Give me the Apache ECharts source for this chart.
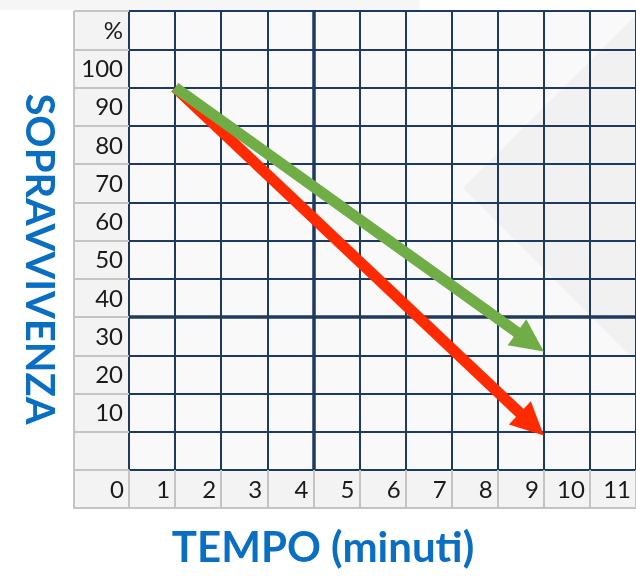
<!DOCTYPE html>
<html><head><meta charset="utf-8">
<script src="https://cdn.jsdelivr.net/npm/echarts@6/dist/echarts.min.js"></script>
<style>html,body{margin:0;padding:0;background:#fff}#c{width:636px;height:578px}</style>
</head><body><div id="c"></div>
<script>
// ---- data ----
const xLabelText = ['0','1','2','3','4','5','6','7','8','9','10','11'];
const yLabelText = ['', '10','20','30','40','50','60','70','80','90','100','%',''];
const arrowNames = ['Rosso','Verde'];
const startTime = [1, 1];
const startSurvival = [100, 100];
const endTime = [9, 9];
const endSurvival = [9, 31];
const arrowColors = ['#ff2a00', '#70ad47'];
const thickTime = [4];
const thickSurvival = [40];

// ---- layout ----
const GL = 129, GT = 11, GB = 108, W = 636, H = 578;
const LABEL_L = 74, ROW_B = 508;
const NAVY = '#1f3a60', CELL = '#c4c4c4';
const FONT = 'Lato';

const chart = echarts.init(document.getElementById('c'), null, {renderer:'canvas'});

const arrowData = arrowNames.map((n,i)=>({name:n, value:[startTime[i], startSurvival[i], endTime[i], endSurvival[i]]}));

function renderArrow(params, api){
  const p1 = api.coord([api.value(0), api.value(1)]);
  const p2 = api.coord([api.value(2), api.value(3)]);
  const color = arrowColors[params.dataIndex];
  const dx = p2[0]-p1[0], dy = p2[1]-p1[1];
  const len = Math.sqrt(dx*dx+dy*dy);
  const ux = dx/len, uy = dy/len, nx = -uy, ny = ux;
  const headLen = 33, headHalf = 16, shaft = 11;
  const bx = p2[0]-ux*headLen, by = p2[1]-uy*headLen;
  return {type:'group', children:[
    {type:'line', shape:{x1:p1[0], y1:p1[1], x2:bx+ux*3, y2:by+uy*3}, style:{stroke:color, lineWidth:shaft, lineCap:'butt'}},
    {type:'polygon', shape:{points:[[p2[0],p2[1]],[bx+nx*headHalf, by+ny*headHalf],[bx-nx*headHalf, by-ny*headHalf]]}, style:{fill:color}}
  ]};
}

chart.setOption({
  backgroundColor:'#ffffff',
  animation:false,
  grid:{left:GL, top:GT, right:0, bottom:GB, containLabel:false, outerBoundsMode:'none'},
  xAxis:{
    type:'value', min:0, max:11, interval:1,
    axisLine:{show:false},
    axisTick:{show:true, length:ROW_B-(H-GB), lineStyle:{color:CELL, width:2}},
    splitLine:{show:true, showMinLine:true, showMaxLine:true, lineStyle:{color:NAVY, width:2}},
    axisLabel:{show:true, showMinLabel:true, showMaxLabel:true, hideOverlap:false,
      formatter:v=>xLabelText[v], align:'right', verticalAlign:'middle', margin:20,
      padding:[0,5,0,0], color:'#1a1a1a', fontSize:24, fontFamily:FONT}
  },
  yAxis:{
    type:'value', min:0, max:120, interval:10,
    axisLine:{show:false},
    axisTick:{show:true, length:GL-LABEL_L, lineStyle:{color:CELL, width:2}},
    splitLine:{show:true, showMinLine:true, showMaxLine:true, lineStyle:{color:NAVY, width:2}},
    axisLabel:{show:true, showMinLabel:true, showMaxLabel:true, hideOverlap:false,
      formatter:v=>yLabelText[Math.round(v/10)], align:'right', verticalAlign:'bottom',
      lineHeight:36, margin:6, color:'#1a1a1a', fontSize:24, fontFamily:FONT}
  },
  graphic:[
    {type:'rect', z:-20, shape:{x:0, y:0, width:420, height:10}, style:{fill:'#f6f6f6'}},
    {type:'rect', z:-20, shape:{x:GL, y:GT, width:W-GL, height:H-GB-GT}, style:{fill:'#f9f9f9'}},
    {type:'polygon', z:-19, shape:{points:[[463,188],[636,15],[636,362]]}, style:{fill:'rgba(0,0,0,0.03)'}},
    {type:'rect', z:-20, shape:{x:LABEL_L, y:GT, width:GL-LABEL_L, height:ROW_B-GT}, style:{fill:'#f3f3f3'}},
    {type:'rect', z:-20, shape:{x:GL, y:H-GB, width:W-GL, height:ROW_B-(H-GB)}, style:{fill:'#f3f3f3'}},
    {type:'polyline', z:-18, shape:{points:[[LABEL_L,GT],[LABEL_L,ROW_B],[W,ROW_B]]}, style:{stroke:CELL, lineWidth:2, fill:null}},
    {type:'text', z:100, x:39, y:259, rotation:-Math.PI/2,
      style:{text:'SOPRAVVIVENZA', fill:'#0a6fc2', font:'bold 40px Lato', textAlign:'center', textVerticalAlign:'middle'}},
    {type:'text', z:100, x:323, y:548,
      style:{text:'TEMPO (minuti)', fill:'#0a6fc2', font:'bold 42px Lato', textAlign:'center', textVerticalAlign:'middle'}}
  ],
  series:[
    {type:'line', data:[], silent:true, z:1,
      markLine:{symbol:'none', silent:true, label:{show:false}, animation:false,
        lineStyle:{color:NAVY, width:3.5, type:'solid'},
        data:[...thickTime.map(t=>({xAxis:t})), ...thickSurvival.map(s=>({yAxis:s}))]}},
    {type:'custom', name:'Frecce', renderItem:renderArrow, data:arrowData, z:5, clip:false,
      encode:{x:[0,2], y:[1,3]}}
  ]
});
</script></body></html>
